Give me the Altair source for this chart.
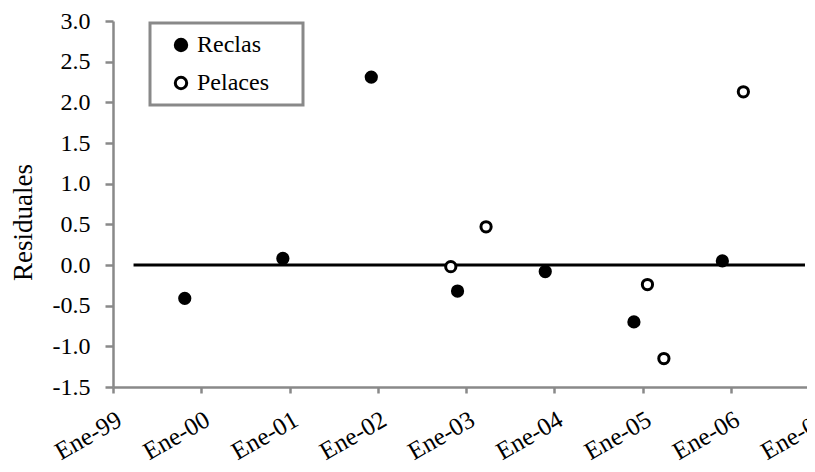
import altair as alt
import pandas as pd

# ---- data ----
series = ["Reclas", "Pelaces"]
reclas_dates = ["1999-10-25", "2000-12-04", "2001-12-05", "2002-11-27",
                "2003-11-25", "2004-11-26", "2005-11-27"]
reclas_values = [-0.41, 0.08, 2.31, -0.32, -0.08, -0.70, 0.05]
pelaces_dates = ["2002-10-30", "2003-03-25", "2005-01-21", "2005-03-30", "2006-02-22"]
pelaces_values = [-0.02, 0.47, -0.24, -1.15, 2.13]
zero_dates = ["1999-03-27", "2006-11-04"]
zero_values = [0.0, 0.0]
year_ticks = list(range(1999, 2008))
y_ticks = [-1.5, -1.0, -0.5, 0.0, 0.5, 1.0, 1.5, 2.0, 2.5, 3.0]

points = pd.DataFrame({
    "fecha": reclas_dates + pelaces_dates,
    "residual": reclas_values + pelaces_values,
    "serie": [series[0]] * len(reclas_dates) + [series[1]] * len(pelaces_dates),
})
zero = pd.DataFrame({"fecha": zero_dates, "residual": zero_values})

FONT = "Liberation Serif"
GREY = "#898989"

x_scale = alt.Scale(
    type="utc",
    domain=[alt.DateTime(year=year_ticks[0], month=1, date=1, utc=True),
            alt.DateTime(year=year_ticks[-1], month=1, date=1, utc=True)],
)
y_scale = alt.Scale(domain=[y_ticks[0], y_ticks[-1]], nice=False, zero=False)

x_axis = alt.Axis(
    values=[alt.DateTime(year=y, month=1, date=1, utc=True) for y in year_ticks],
    labelExpr="'Ene-' + utcFormat(datum.value, '%y')",
    labelAngle=-30, labelAlign="right", labelBaseline="middle",
    labelPadding=24, labelOffset=6,
    labelFont=FONT, labelFontSize=25, labelColor="black",
    labelOverlap=False, labelFlush=False, labelBound=False,
    tickSize=6, tickWidth=2.5, tickColor=GREY,
    domainColor=GREY, domainWidth=2.5, grid=False, title=None,
)
y_axis = alt.Axis(
    values=y_ticks,
    labelExpr="replace(format(datum.value, '.1f'), '\u2212', '-')",
    labelFont=FONT, labelFontSize=24, labelColor="black", labelPadding=15,
    tickSize=8, tickWidth=2.5, tickColor=GREY,
    domainColor=GREY, domainWidth=2.5, grid=False,
    title="Residuales", titleFont=FONT, titleFontSize=27, titleFontWeight="normal",
    titleColor="black", titleAngle=-90, titleX=-90, titleY=201,
    titleAlign="center", titleBaseline="middle",
)

line = alt.Chart(zero).mark_line(color="black", strokeWidth=3).encode(
    x=alt.X("fecha:T", scale=x_scale, axis=x_axis),
    y=alt.Y("residual:Q", scale=y_scale, axis=y_axis),
)

pts = alt.Chart(points).mark_point(
    filled=True, shape="circle", stroke="black", strokeWidth=3, opacity=1, size=105
).encode(
    x=alt.X("fecha:T", scale=x_scale, axis=x_axis),
    y=alt.Y("residual:Q", scale=y_scale, axis=y_axis),
    fill=alt.Fill(
        "serie:N",
        scale=alt.Scale(domain=series, range=["black", "white"]),
        legend=alt.Legend(
            title=None, orient="none", legendX=37, legendY=2,
            labelFont=FONT, labelFontSize=24, labelColor="black",
            labelExpr="datum.label + '\u00a0\u00a0\u00a0\u00a0\u200b'",
            padding=10, rowPadding=14, symbolOffset=9, labelOffset=4,
            symbolType="circle", symbolSize=130, symbolStrokeWidth=3,
            symbolStrokeColor="black", strokeColor=GREY,
        ),
    ),
)

chart = (
    alt.layer(line, pts)
    .properties(
        width=706, height=366,
        autosize=alt.AutoSizeParams(type="none"),
        padding={"left": 105, "top": 13, "right": -12, "bottom": 77},
        background="white",
    )
    .configure_view(stroke=None)
    .configure_legend(strokeWidth=3, labelFont=FONT)
)

chart.save("out.html", embed_options={"renderer": "svg", "actions": False})
